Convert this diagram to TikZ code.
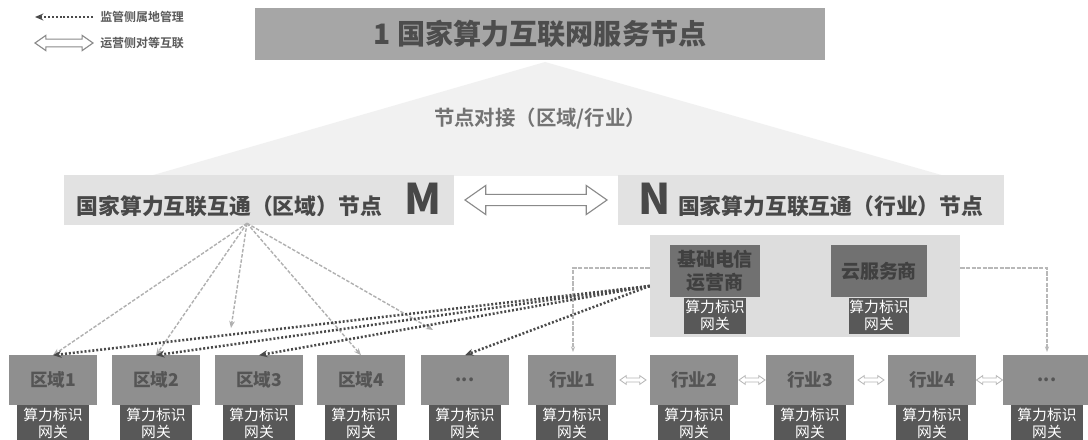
\documentclass[tikz,border=0pt]{standalone}
\usepackage{fontspec}
\setmainfont{Noto Sans CJK SC}[BoldFont={Noto Sans CJK SC Bold}]
\newfontfamily\heavy{Noto Sans CJK SC Black}
\usetikzlibrary{shapes.arrows, arrows.meta, calc, positioning}

\definecolor{titlegray}{HTML}{A6A6A6}
\definecolor{titletext}{HTML}{4D4D4D}
\definecolor{bandgray}{HTML}{E2E2E2}
\definecolor{bandtext}{HTML}{484848}
\definecolor{unitgray}{HTML}{8F8F8F}
\definecolor{unittext}{HTML}{555555}
\definecolor{gwgray}{HTML}{585858}
\definecolor{opgray}{HTML}{717171}
\definecolor{optext}{HTML}{404040}
\definecolor{groupgray}{HTML}{DDDDDD}
\definecolor{pyramidgray}{HTML}{F1F1F1}
\definecolor{fangray}{HTML}{B0B0B0}
\definecolor{dotgray}{HTML}{4A4A4A}
\definecolor{svcgray}{HTML}{B8B8B8}
\definecolor{rimgray}{HTML}{8A8A8A}

\begin{document}
\begin{tikzpicture}[x=0.025cm,y=-0.025cm,
	banner/.style={fill=titlegray,text=titletext,minimum width=14.25cm,minimum height=1.3cm,font=\fontsize{20}{24}\selectfont\heavy},
	hint/.style={text=black!55,font=\fontsize{14.5}{17}\selectfont\bfseries},
	band/.style={fill=bandgray,text=bandtext,minimum height=1.25cm,inner sep=0pt,font=\fontsize{15.5}{18}\selectfont\heavy},
	unit/.style={fill=unitgray,text=unittext,minimum width=2.2cm,minimum height=1.225cm,font=\fontsize{12.5}{14}\selectfont\heavy},
	gw/.style={fill=gwgray,text=white,minimum width=1.775cm,minimum height=0.9cm,inner sep=0pt,align=center,font=\fontsize{10.5}{12}\selectfont},
	op/.style={fill=opgray,text=optext,minimum height=1.3cm,inner sep=0pt,align=center,font=\fontsize{13.5}{16}\selectfont\heavy},
	legend/.style={text=black!65,anchor=west,inner sep=0pt,font=\fontsize{8.5}{10}\selectfont\bfseries},
	duplex/.style={double arrow,draw=rimgray,fill=white,line width=0.8pt,inner xsep=0pt,inner ysep=0.125cm,
		minimum height=3.55cm,minimum width=0.7cm,double arrow head extend=0.225cm,double arrow tip angle=70},
	peer/.style={duplex,draw=svcgray,line width=0.6pt,inner ysep=0.04cm,minimum height=0.65cm,minimum width=0.2cm,double arrow head extend=0.06cm},
	fan/.style={-{Stealth[length=5pt,width=4pt]},draw=fangray,line width=1pt,dash pattern=on 2.5pt off 1.2pt},
	supervise/.style={-{Stealth[length=6pt,width=5pt]},draw=dotgray,line width=1.8pt,dash pattern=on 1.4pt off 1.4pt},
	svc/.style={-{Stealth[length=4pt,width=3pt]},draw=svcgray,line width=0.8pt,dash pattern=on 3pt off 1pt}]

	\fill[white] (0,0) rectangle (1088,440);
	\useasboundingbox (0,0) rectangle (1088,440);

	% legend
	\node[legend] (lg1) at (100,17) {监管侧属地管理};
	\node[legend] (lg2) at (100,43) {运营侧对等互联};
	\coordinate (lg1a) at (35,17);
	\coordinate (lg1b) at (93,17);
	\draw[supervise,line width=1.2pt] (lg1b) -- (lg1a);
	\node[duplex,inner ysep=0.06cm,minimum height=1.45cm,minimum width=0.38cm,double arrow head extend=0.07cm] (lg2arrow) at (64,43) {};

	% top
	\fill[pyramidgray] (545,62) -- (945,176) -- (150,176) -- cycle;
	\node[banner] (title) at (540,34) {1 国家算力互联网服务节点};
	\node[hint] (dock) at (540,119) {节点对接（区域/行业）};

	% national nodes
	\node[band,minimum width=9.75cm] (mband) at (259,200) {国家算力互联互通（区域）节点\hspace{16pt}{\fontsize{30}{30}\selectfont M}};
	\node[band,minimum width=9.65cm] (nband) at (811,200) {{\fontsize{30}{30}\selectfont N}\hspace{5pt}国家算力互联互通（行业）节点};
	\path (mband.east) -- node[duplex] (mn) {} (nband.west);

	% operators
	\node[fill=groupgray,minimum width=7.75cm,minimum height=2.55cm] (opgroup) at (805,286) {};
	\draw[svc] (opgroup.west |- 0,268) -| (573,352);
	\draw[svc] (opgroup.east |- 0,268) -| (1047,352);
	\node[op,minimum width=2.25cm] (tel) at (715,271) {基础电信\\运营商};
	\node[gw,minimum width=1.55cm,below=0pt of tel] (telgw) {算力标识\\网关};
	\node[op,minimum width=2.4cm] (cloud) at (879,271) {云服务商};
	\node[gw,minimum width=1.5cm,below=0pt of cloud] (cloudgw) {算力标识\\网关};

	% regions
	\node[unit] (r1) at (53,380) {区域1};
	\node[gw,below=0pt of r1] (r1gw) {算力标识\\网关};
	\node[unit] (r2) at (156,380) {区域2};
	\node[gw,below=0pt of r2] (r2gw) {算力标识\\网关};
	\node[unit] (r3) at (259,380) {区域3};
	\node[gw,below=0pt of r3] (r3gw) {算力标识\\网关};
	\node[unit] (r4) at (361,380) {区域4};
	\node[gw,below=0pt of r4] (r4gw) {算力标识\\网关};
	\node[unit] (r5) at (465,380) {...};
	\node[gw,below=0pt of r5] (r5gw) {算力标识\\网关};

	% industries
	\node[unit] (i1) at (572,380) {行业1};
	\node[gw,below=0pt of i1] (i1gw) {算力标识\\网关};
	\node[unit] (i2) at (694,380) {行业2};
	\node[gw,below=0pt of i2] (i2gw) {算力标识\\网关};
	\node[unit] (i3) at (810,380) {行业3};
	\node[gw,below=0pt of i3] (i3gw) {算力标识\\网关};
	\node[unit] (i4) at (932,380) {行业4};
	\node[gw,below=0pt of i4] (i4gw) {算力标识\\网关};
	\node[unit] (i5) at (1047,380) {...};
	\node[gw,below=0pt of i5] (i5gw) {算力标识\\网关};

	\path (i1.east) -- node[peer] (p12) {} (i2.west);
	\path (i2.east) -- node[peer] (p23) {} (i3.west);
	\path (i3.east) -- node[peer] (p34) {} (i4.west);
	\path (i4.east) -- node[peer] (p45) {} (i5.west);

	% supervision lines
	\coordinate (mfan) at ($(mband.south)+(-12,-2)$);
	\coordinate (r3stub) at (231,328);
	\coordinate (r5stub) at (433,330);
	\path
		(mfan)
	edge [fan] (r1.north)
	edge [fan] (r2.north)
	edge [fan] (r3stub)
	edge [fan] (r4.north)
	edge [fan] (r5stub);
	\path
		(opgroup.west)
	edge [supervise] (r1.north)
	edge [supervise] (r2.north)
	edge [supervise] (r3.north)
	edge [supervise] (r5.north);
\end{tikzpicture}
\end{document}
